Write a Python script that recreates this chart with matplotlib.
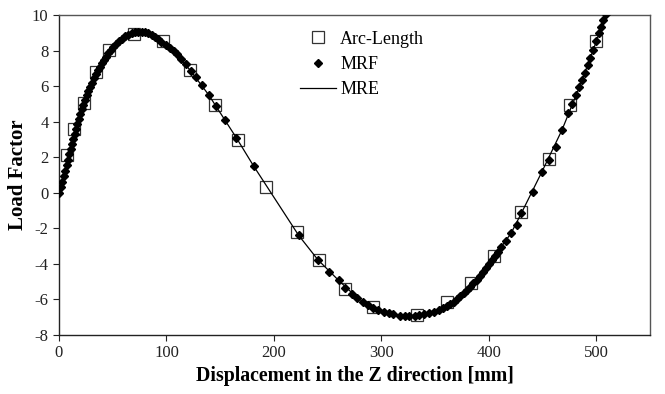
import matplotlib
matplotlib.use("Agg")
import matplotlib.pyplot as plt

plt.rcParams['font.family'] = ['Liberation Serif', 'DejaVu Serif']
plt.rcParams['axes.unicode_minus'] = False

# Arc-Length results (squares)
arc_x = [7.2, 13.9, 23.2, 34.1, 46.8, 69.7, 96.4, 121.7, 145.0, 166.5, 193.0,
         221.2, 241.6, 266.4, 292.0, 333.2, 361.0, 383.0, 404.6, 430.3, 455.7,
         475.8, 499.7]
arc_y = [2.10, 3.60, 5.07, 6.78, 8.04, 8.95, 8.54, 6.93, 4.94, 2.98, 0.30,
         -2.20, -3.76, -5.39, -6.41, -6.85, -6.15, -5.07, -3.57, -1.10, 1.89,
         4.93, 8.52]

# MRF results (diamonds)
mrf_x = [0.0, 1.9, 3.1, 4.6, 5.9, 7.1, 8.4, 9.6, 10.8, 12.1, 13.3, 14.6, 15.8,
         17.0, 18.3, 19.8, 21.1, 22.6, 24.2, 25.7, 27.3, 28.8, 30.7, 32.5, 34.1,
         35.9, 37.8, 39.6, 41.5, 43.7, 45.8, 48.0, 50.5, 53.0, 55.5, 58.2, 61.3,
         64.4, 67.5, 70.6, 73.7, 76.9, 79.9, 83.0, 86.2, 89.2, 92.3, 95.4, 99.4,
         103.2, 106.9, 109.9, 114.0, 118.0, 122.4, 127.3, 133.2, 139.4, 146.2,
         154.6, 165.1, 181.2, 223.0, 241.0, 251.1, 260.3, 266.5, 272.8, 277.8,
         283.2, 288.0, 292.6, 297.3, 302.2, 306.8, 311.2, 316.9, 321.6, 326.2,
         330.9, 335.5, 340.1, 344.8, 349.4, 353.5, 357.2, 361.0, 364.3, 367.4,
         370.5, 373.6, 376.7, 379.8, 382.9, 385.7, 388.8, 391.5, 394.3, 397.1,
         399.9, 402.7, 405.5, 408.3, 411.4, 416.0, 420.7, 426.0, 430.3, 440.8,
         449.5, 456.3, 462.5, 468.1, 473.3, 477.4, 481.1, 484.2, 486.7, 489.5,
         491.9, 494.4, 497.2, 499.7, 502.1, 504.4, 506.5, 509.0]
mrf_y = [0.00, 0.34, 0.63, 0.95, 1.24, 1.56, 1.84, 2.16, 2.44, 2.74, 3.03, 3.31,
         3.59, 3.87, 4.13, 4.41, 4.70, 4.96, 5.22, 5.48, 5.73, 5.95, 6.19, 6.44,
         6.66, 6.89, 7.09, 7.28, 7.47, 7.65, 7.85, 8.03, 8.20, 8.37, 8.52, 8.67,
         8.80, 8.89, 8.97, 9.03, 9.06, 9.04, 9.03, 8.97, 8.89, 8.78, 8.65, 8.50,
         8.31, 8.17, 7.98, 7.79, 7.54, 7.24, 6.87, 6.50, 6.06, 5.50, 4.89, 4.11,
         3.09, 1.50, -2.39, -3.77, -4.46, -4.93, -5.37, -5.68, -5.92, -6.15,
         -6.32, -6.48, -6.62, -6.70, -6.78, -6.84, -6.91, -6.92, -6.92, -6.91,
         -6.87, -6.82, -6.76, -6.69, -6.59, -6.50, -6.38, -6.25, -6.12, -5.97,
         -5.80, -5.63, -5.47, -5.28, -5.09, -4.89, -4.68, -4.45, -4.23, -4.00,
         -3.78, -3.55, -3.31, -3.03, -2.69, -2.28, -1.81, -1.15, 0.06, 1.19,
         1.84, 2.59, 3.53, 4.47, 4.99, 5.50, 5.93, 6.34, 6.72, 7.19, 7.56, 8.03,
         8.55, 8.97, 9.34, 9.72, 10.06]

# MRE results (line)
mre_x = [0.0, 4.6, 9.6, 15.8, 22.6, 30.7, 39.6, 50.5, 61.3, 73.7, 86.2, 99.4,
         109.9, 122.4, 139.4, 165.1, 181.2, 223.0, 241.0, 260.3, 277.8, 292.6,
         306.8, 321.6, 335.5, 349.4, 364.3, 379.8, 394.3, 408.3, 420.7, 430.3,
         449.5, 468.1, 484.2, 497.2, 509.0]
mre_y = [0.00, 0.95, 2.16, 3.59, 4.96, 6.19, 7.28, 8.20, 8.80, 9.06, 8.89, 8.31,
         7.79, 6.87, 5.50, 3.09, 1.50, -2.39, -3.77, -4.93, -5.92, -6.48, -6.78,
         -6.92, -6.87, -6.69, -6.25, -5.47, -4.45, -3.31, -2.28, -1.15, 1.19,
         3.53, 5.93, 8.03, 10.06]

xticks = [0, 100, 200, 300, 400, 500]
yticks = [-8, -6, -4, -2, 0, 2, 4, 6, 8, 10]

fig = plt.figure(figsize=(6.65, 3.94), dpi=100)
ax = fig.add_axes([0.0887, 0.1497, 0.9774 - 0.0887, 0.9619 - 0.1497])

ax.plot(arc_x, arc_y, linestyle='none', marker='s', markersize=8.5,
        markerfacecolor='none', markeredgecolor='#333333', markeredgewidth=0.9,
        label='Arc-Length', zorder=2)
ax.plot(mrf_x, mrf_y, linestyle='none', marker='D', markersize=3.6,
        color='black', label='MRF', zorder=4)
ax.plot(mre_x, mre_y, linestyle='-', color='black', linewidth=0.9,
        label='MRE', zorder=3)

ax.set_xlim(0, 550)
ax.set_ylim(-8, 10)
ax.set_xticks(xticks)
ax.set_yticks(yticks)
ax.tick_params(direction='out', length=4, width=0.8, labelsize=12,
               colors='#222222', top=False, right=False)
for s in ['left', 'bottom']:
    ax.spines[s].set_color('#222222')
    ax.spines[s].set_linewidth(1.0)
for s in ['top', 'right']:
    ax.spines[s].set_color('#555555')
    ax.spines[s].set_linewidth(1.0)

ax.set_xlabel('Displacement in the Z direction [mm]', fontsize=14.3,
              fontweight='bold', labelpad=3)
ax.set_ylabel('Load Factor', fontsize=15, fontweight='bold', labelpad=3)

leg = ax.legend(loc='upper left', bbox_to_anchor=(0.437, 0.945),
                bbox_transform=fig.transFigure, frameon=False, fontsize=13,
                handlelength=2.0, handletextpad=0.25, labelspacing=0.45,
                borderpad=0)

fig.savefig('out.png', dpi=100)
